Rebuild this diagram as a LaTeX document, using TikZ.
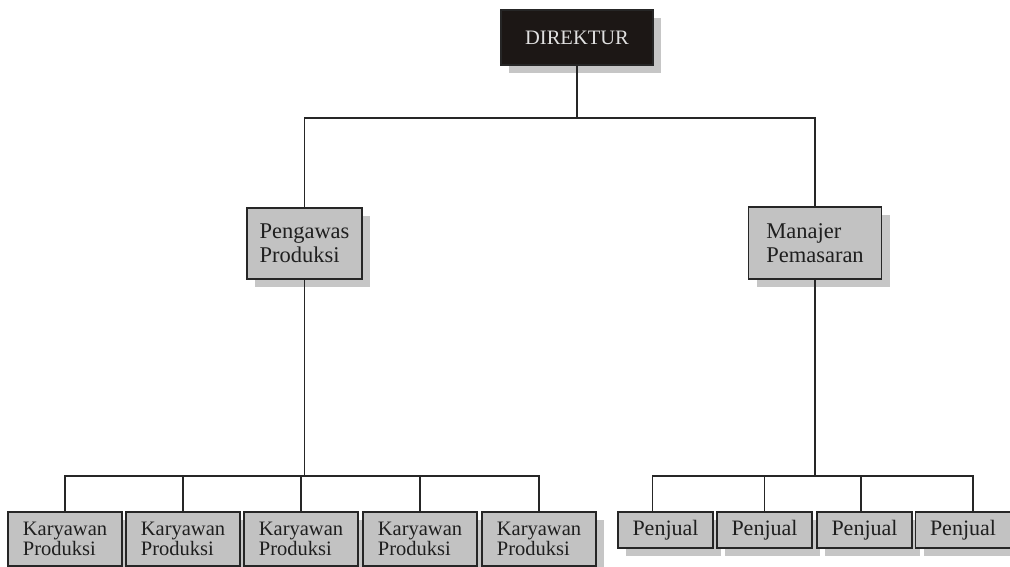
\documentclass[tikz,border=0pt]{standalone}
\usepackage{fontspec}
\setmainfont{Liberation Serif}
\usetikzlibrary{shadows}

\definecolor{boxgray}{HTML}{C2C2C2}
\definecolor{shadowgray}{HTML}{C6C6C6}
\definecolor{edgegray}{HTML}{262626}
\definecolor{topdark}{HTML}{1C1715}

\tikzset{
  orgbox/.style={draw=edgegray, line width=1.8pt, fill=boxgray, inner sep=0pt,
    align=left, text=black!88,
    drop shadow={shadow xshift=8pt, shadow yshift=-8pt, fill=shadowgray, opacity=1}},
  headbox/.style={orgbox, fill=topdark, text=white!88!black},
  link/.style={draw=edgegray, line width=1.5pt},
}

\begin{document}
\begin{tikzpicture}[x=1pt, y=-1pt]
\useasboundingbox (0,0) rectangle (1010,567);

% top level
\node[headbox, minimum width=152pt, minimum height=55pt,
      font=\fontsize{20.5}{22}\selectfont] (dir) at (577,37.5) {DIREKTUR};

% second level
\node[orgbox, minimum width=115pt, minimum height=71pt,
      font=\fontsize{22.5}{24}\selectfont] (peng) at (304.5,243.5) {Pengawas\\Produksi};
\node[orgbox, minimum width=133pt, minimum height=72pt,
      font=\fontsize{22.5}{24}\selectfont] (man) at (815,243) {Manajer\\Pemasaran};

% production staff
\foreach \i/\x in {1/65,2/183,3/301,4/420,5/539}{
  \node[orgbox, minimum width=114pt, minimum height=54pt,
        font=\fontsize{20.5}{20}\selectfont] (k\i) at (\x,539) {Karyawan\\Produksi};
}

% sales staff
\foreach \i/\x in {1/665.5,2/764.5,3/864.5,4/963}{
  \node[orgbox, minimum width=95pt, minimum height=36pt,
        font=\fontsize{22}{22}\selectfont] (p\i) at (\x,530) {Penjual};
}

% bus lines
\coordinate (topbus) at (577,118);
\coordinate (lbus) at (0,476);
\coordinate (rbus) at (0,476);

\draw[link] (dir.south) -- (dir.south |- topbus);
\draw[link] (peng.north) -- (peng.north |- topbus) -- (man.north |- topbus) -- (man.north);

\draw[link] (peng.south) -- (peng.south |- lbus);
\draw[link] (k1.north) -- (k1.north |- lbus) -- (k5.north |- lbus) -- (k5.north);
\foreach \i in {2,3,4}{
  \draw[link] (k\i.north) -- (k\i.north |- lbus);
}

\draw[link] (man.south) -- (man.south |- rbus);
\draw[link] ([xshift=-13pt]p1.north) -- ([xshift=-13pt]p1.north |- rbus)
  -- ([xshift=10pt]p4.north |- rbus) -- ([xshift=10pt]p4.north);
\draw[link] (p2.north) -- (p2.north |- rbus);
\draw[link] ([xshift=-3.5pt]p3.north) -- ([xshift=-3.5pt]p3.north |- rbus);
\end{tikzpicture}
\end{document}
